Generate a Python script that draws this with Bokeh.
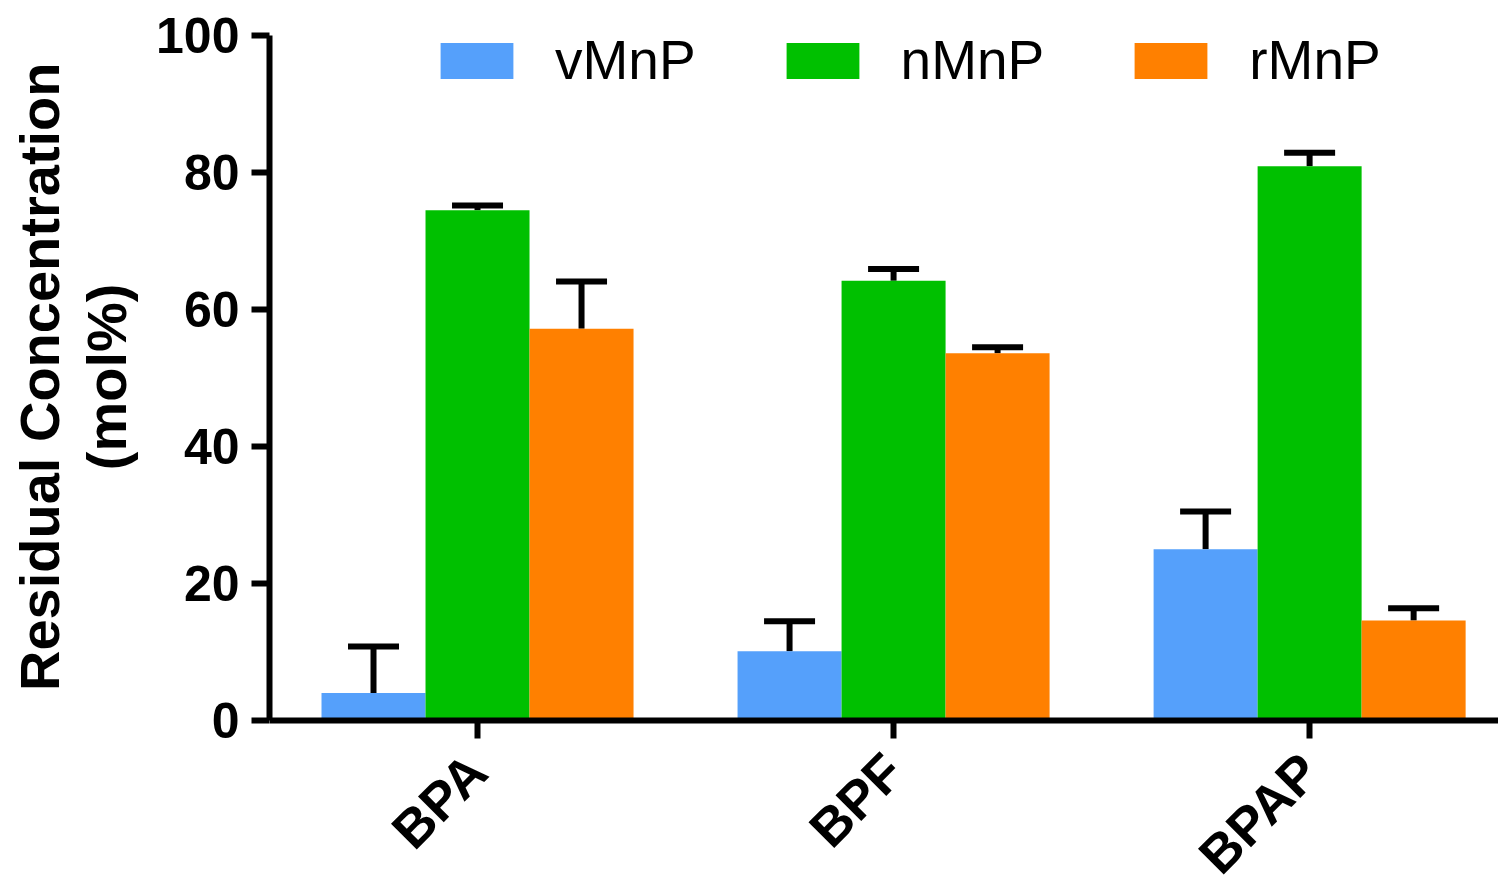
from bokeh.plotting import figure
from bokeh.models import ColumnDataSource, Range1d, FixedTicker, Whisker, TeeHead, Legend, LegendItem, Title
from bokeh.transform import dodge
from bokeh.embed import file_html
from bokeh.resources import INLINE
from math import pi

compounds = ["BPA", "BPF", "BPAP"]
series = ["vMnP", "nMnP", "rMnP"]
colors = ["#55A0FB", "#00C000", "#FF8000"]
vmnp = [4.0, 10.1, 25.0]
vmnp_err = [6.8, 4.4, 5.5]
nmnp = [74.5, 64.2, 80.9]
nmnp_err = [0.7, 1.7, 2.0]
rmnp = [57.2, 53.6, 14.6]
rmnp_err = [6.9, 0.9, 1.8]
y_ticks = [0, 20, 40, 60, 80, 100]
y_label_lines = ["Residual Concentration", "(mol%)"]

values = [vmnp, nmnp, rmnp]
errors = [vmnp_err, nmnp_err, rmnp_err]
offsets = [-0.25, 0.0, 0.25]
xs = list(range(len(compounds)))

FONT = "Liberation Sans"

p = figure(width=1498, height=878, output_backend="svg", toolbar_location=None,
           x_range=Range1d(-0.5, 2.454), y_range=Range1d(-23.066, 105.109),
           min_border_left=269, min_border_right=0, min_border_top=0, min_border_bottom=0)
p.outline_line_color = None
p.grid.visible = False

items = []
for name, col, vals, errs, off in zip(series, colors, values, errors, offsets):
    src = ColumnDataSource(dict(x=xs, top=vals, upper=[v + e for v, e in zip(vals, errs)]))
    r = p.vbar(x=dodge("x", off, range=p.x_range), top="top", bottom=0, width=0.25,
               source=src, fill_color=col, line_color=None)
    w = Whisker(source=src, base=dodge("x", off, range=p.x_range), lower="top", upper="upper",
                line_width=6, line_color="black",
                upper_head=TeeHead(size=51, line_width=6, line_color="black"), lower_head=None)
    p.add_layout(w)
    items.append(LegendItem(label=name, renderers=[r]))

legend = Legend(items=items, orientation="horizontal", location=(162, 786),
                glyph_width=91, glyph_height=45, label_standoff=33, spacing=81,
                label_text_font=FONT, label_text_font_size="55px", label_text_color="black",
                padding=0, margin=0, border_line_color=None, background_fill_alpha=0)
p.add_layout(legend)

for ax in (p.xaxis, p.yaxis):
    ax.axis_line_width = 6
    ax.major_tick_line_width = 6
    ax.major_tick_out = 18
    ax.major_tick_in = 0
    ax.minor_tick_line_color = None
    ax.major_label_text_font = FONT
    ax.major_label_text_font_style = "bold"
    ax.major_label_text_color = "black"

p.yaxis.bounds = (0, 100)
p.yaxis.major_label_text_font_size = "50px"
p.yaxis.ticker = FixedTicker(ticks=y_ticks)
p.yaxis.major_label_standoff = 12

# two-line y-axis title, each line centred on the 0..100 span of the axis
title_inner = Title(text=y_label_lines[1], align="right", offset=283, standoff=32,
                    text_font=FONT, text_font_size="56px", text_font_style="bold", text_color="black")
title_outer = Title(text=y_label_lines[0], align="right", offset=62, standoff=-28,
                    text_font=FONT, text_font_size="56px", text_font_style="bold", text_color="black")
p.add_layout(title_inner, "left")
p.add_layout(title_outer, "left")

p.xaxis.fixed_location = 0
p.xaxis.major_label_text_font_size = "53px"
p.xaxis.ticker = FixedTicker(ticks=xs)
p.xaxis.major_label_overrides = {i: c for i, c in zip(xs, compounds)}
p.xaxis.major_label_orientation = pi / 4
p.xaxis.major_label_standoff = 24

open("out.html", "w").write(file_html(p, INLINE))
